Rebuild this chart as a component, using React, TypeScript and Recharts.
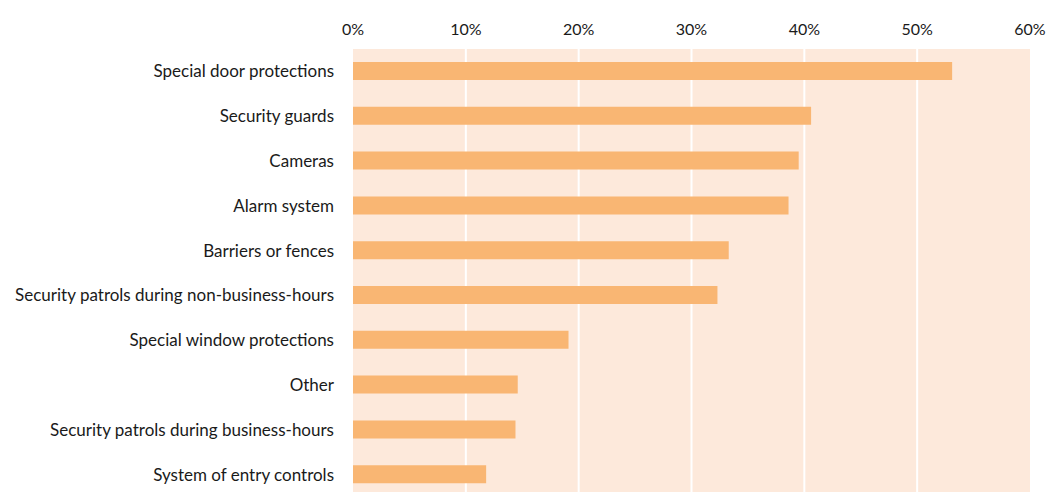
import { Bar, BarChart, CartesianGrid, XAxis, YAxis } from "recharts";

const CATEGORIES = [
  "Special door protections",
  "Security guards",
  "Cameras",
  "Alarm system",
  "Barriers or fences",
  "Security patrols during non-business-hours",
  "Special window protections",
  "Other",
  "Security patrols during business-hours",
  "System of entry controls",
];
const SHARES = [0.531, 0.406, 0.395, 0.386, 0.333, 0.323, 0.191, 0.146, 0.144, 0.118];
const TICKS = [0, 0.1, 0.2, 0.3, 0.4, 0.5, 0.6];
const MAX = 0.6;

const FONT = "Lato, 'Open Sans', sans-serif";
const TICK = { fill: "#1a1a1a", fontSize: 17, fontFamily: FONT };

const data = CATEGORIES.map((name, index) => ({ name, share: SHARES[index] }));

// white lines only between the edges, like the original
const innerLines = ({ xAxis, offset }: any) =>
  TICKS.slice(1, -1).map((tick) =>
    typeof xAxis?.scale === "function"
      ? xAxis.scale(tick)
      : offset.left + (offset.width * tick) / MAX,
  );

export default function App() {
  return (
    <div
      style={{
        position: "fixed",
        left: 0,
        top: 0,
        width: 1049,
        height: 492,
        overflow: "hidden",
        background: "#fff",
      }}
    >
      <BarChart
        data={data}
        height={510}
        layout="vertical"
        margin={{ top: 0, right: 19, bottom: 13, left: 0 }}
        width={1049}
        barCategoryGap={27}
      >
        <CartesianGrid
          fill="#fde9db"
          fillOpacity={1}
          horizontal={false}
          stroke="#ffffff"
          strokeWidth={2}
          verticalCoordinatesGenerator={innerLines}
        />
        <XAxis
          axisLine={false}
          domain={[0, MAX]}
          height={49}
          orientation="top"
          tick={{ ...TICK, fontSize: 16 }}
          tickFormatter={(value: number) => `${Math.round(value * 100)}%`}
          tickLine={false}
          tickMargin={14}
          tickSize={0}
          ticks={TICKS}
          type="number"
        />
        <YAxis
          axisLine={false}
          dataKey="name"
          interval={0}
          tick={TICK}
          tickLine={false}
          tickMargin={19}
          tickSize={0}
          type="category"
          width={353}
        />
        <Bar dataKey="share" fill="#f9b673" barSize={18} isAnimationActive={false} />
      </BarChart>
    </div>
  );
}
